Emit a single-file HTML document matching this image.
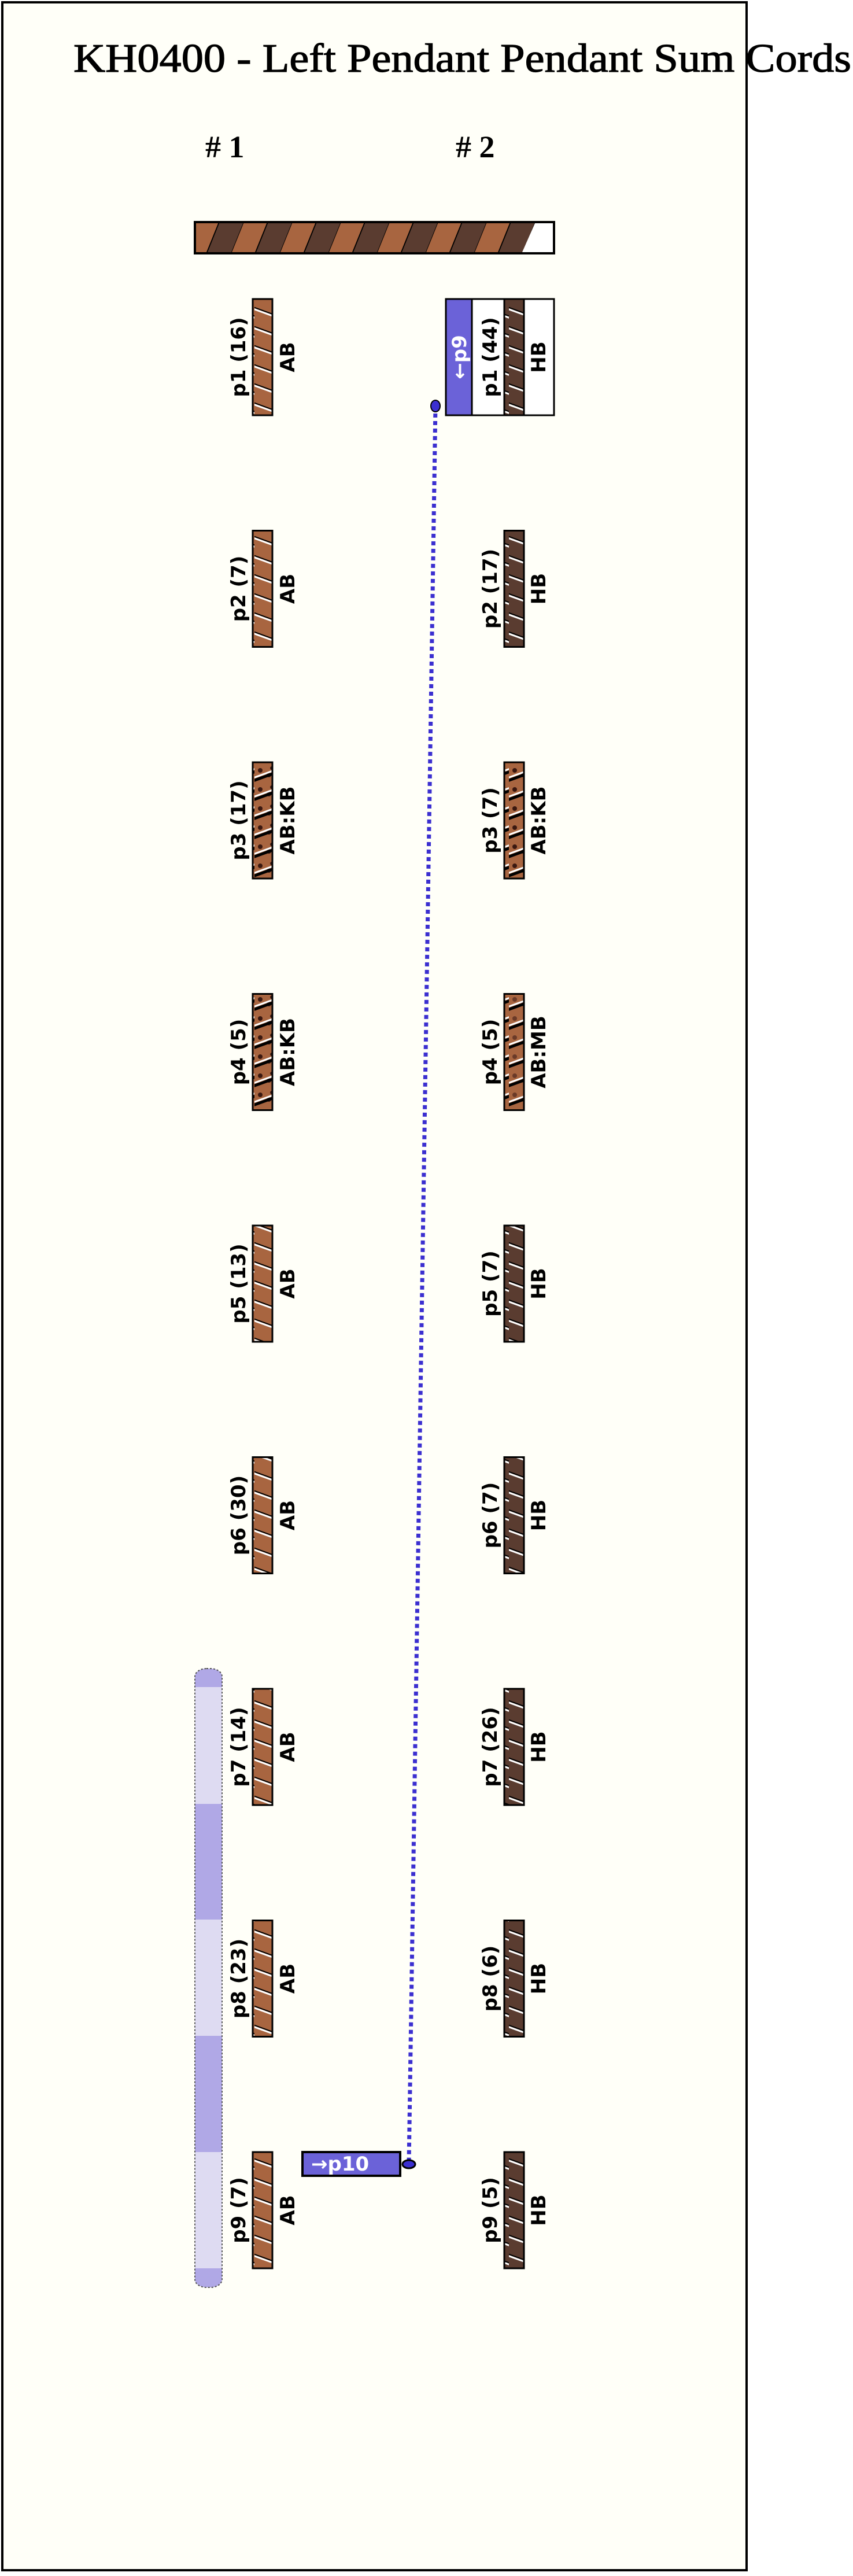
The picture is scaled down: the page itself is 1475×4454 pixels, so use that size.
<!DOCTYPE html>
<html><head><meta charset="utf-8"><style>
html,body{margin:0;padding:0;background:#fff;}
svg{display:block;}
.lbl{font-family:"DejaVu Sans","Liberation Sans",sans-serif;font-weight:bold;font-size:34px;fill:#000;}
</style></head><body>
<svg width="1475" height="4454" viewBox="0 0 1475 4454" xmlns="http://www.w3.org/2000/svg">
<defs>
<pattern id="ab" patternUnits="userSpaceOnUse" width="40" height="33">
<rect width="40" height="33" fill="#a86540"/>
<line x1="-2" y1="3" x2="42" y2="19" stroke="#000" stroke-width="2"/>
<line x1="-2" y1="6" x2="42" y2="22" stroke="#fff" stroke-width="3"/>
</pattern>
<pattern id="hb" patternUnits="userSpaceOnUse" width="40" height="33">
<rect width="40" height="33" fill="#5a3c30"/>
<line x1="-2" y1="3" x2="42" y2="19" stroke="#000" stroke-width="2"/>
<line x1="-2" y1="6" x2="42" y2="22" stroke="#fff" stroke-width="3"/>
</pattern>
<pattern id="kb" patternUnits="userSpaceOnUse" width="40" height="33">
<rect width="40" height="33" fill="#a86540"/>
<circle cx="10" cy="12" r="4" fill="#3a1810"/><circle cx="25" cy="20" r="4" fill="#3a1810"/><circle cx="30" cy="8" r="3" fill="#3a1810"/>
<line x1="-2" y1="30" x2="42" y2="14" stroke="#000" stroke-width="5"/>
<line x1="-2" y1="25" x2="42" y2="9" stroke="#fff" stroke-width="3"/>
</pattern>
<pattern id="mb" patternUnits="userSpaceOnUse" width="40" height="33">
<rect width="40" height="33" fill="#a86540"/>
<circle cx="10" cy="12" r="4" fill="#6a3a28"/><circle cx="25" cy="20" r="4" fill="#6a3a28"/><circle cx="30" cy="8" r="3" fill="#6a3a28"/>
<line x1="-2" y1="30" x2="42" y2="14" stroke="#000" stroke-width="5"/>
<line x1="-2" y1="25" x2="42" y2="9" stroke="#fff" stroke-width="3"/>
</pattern>
<pattern id="bar" patternUnits="userSpaceOnUse" width="84" height="60" patternTransform="translate(337,384) skewX(-22)">
<rect width="42" height="60" fill="#a86540"/>
<rect x="42" width="42" height="60" fill="#5a3c30"/>
<line x1="0" y1="0" x2="0" y2="60" stroke="#000" stroke-width="2"/>
<line x1="42" y1="0" x2="42" y2="60" stroke="#000" stroke-width="2"/>
</pattern>
<clipPath id="sideclip"><rect x="337" y="2885" width="47" height="1070" rx="20" ry="14"/></clipPath>
</defs>
<rect x="0" y="0" width="1475" height="4454" fill="#fff"/>
<rect x="4" y="4" width="1287" height="4440" fill="#fffff8" stroke="#000" stroke-width="4"/>
<text x="127" y="124" font-family="Liberation Serif, serif" font-size="70" stroke="#000" stroke-width="1.2" textLength="1345" lengthAdjust="spacingAndGlyphs">KH0400 - Left Pendant Pendant Sum Cords</text>
<text x="355" y="272" font-family="Liberation Serif, serif" font-size="54" font-weight="bold"># 1</text>
<text x="788" y="272" font-family="Liberation Serif, serif" font-size="54" font-weight="bold"># 2</text>

<rect x="337" y="384" width="621" height="54" fill="url(#bar)"/>
<polygon points="925,386 956,386 956,436 903,436" fill="#fff"/>
<rect x="337" y="384" width="621" height="54" fill="none" stroke="#000" stroke-width="4"/>

<g clip-path="url(#sideclip)">
<rect x="337" y="2885" width="47" height="1070" fill="#dedbf2"/>
<rect x="337" y="2885" width="47" height="32" fill="#b0a8e6"/>
<rect x="337" y="3119" width="47" height="200" fill="#b0a8e6"/>
<rect x="337" y="3520" width="47" height="201" fill="#b0a8e6"/>
<rect x="337" y="3922" width="47" height="33" fill="#b0a8e6"/>
</g>
<rect x="337" y="2885" width="47" height="1070" rx="20" ry="14" fill="none" stroke="#555" stroke-width="2" stroke-dasharray="3 3"/>

<rect x="771" y="517" width="187" height="201" fill="#fff" stroke="#000" stroke-width="3"/>
<rect x="771" y="517" width="45" height="201" fill="#6b62d8" stroke="#000" stroke-width="3"/>
<text transform="translate(806,617.5) rotate(-90)" text-anchor="middle" class="lbl" style="fill:#fff">←p9</text>

<line x1="753" y1="702" x2="707" y2="3742" stroke="#3b2fd0" stroke-width="7" stroke-dasharray="7 6"/>
<ellipse cx="753" cy="702" rx="8" ry="10" fill="#3b2fd0" stroke="#000" stroke-width="2"/>

<rect x="523" y="3721" width="169" height="41" fill="#6b62d8" stroke="#000" stroke-width="4"/>
<text x="538" y="3753" class="lbl" style="fill:#fff" font-size="32">→p10</text>
<ellipse cx="707" cy="3742" rx="11" ry="7" fill="#3b2fd0" stroke="#000" stroke-width="3"/>

<g id="cords"></g>
</svg>
<script>
(function(){
var ns="http://www.w3.org/2000/svg",g=document.getElementById("cords");
var c1=[["p1 (16)","AB","ab"],["p2 (7)","AB","ab"],["p3 (17)","AB:KB","kb"],["p4 (5)","AB:KB","kb"],["p5 (13)","AB","ab"],["p6 (30)","AB","ab"],["p7 (14)","AB","ab"],["p8 (23)","AB","ab"],["p9 (7)","AB","ab"]];
var c2=[["p1 (44)","HB","hb"],["p2 (17)","HB","hb"],["p3 (7)","AB:KB","kb"],["p4 (5)","AB:MB","mb"],["p5 (7)","HB","hb"],["p6 (7)","HB","hb"],["p7 (26)","HB","hb"],["p8 (6)","HB","hb"],["p9 (5)","HB","hb"]];
function add(x,y,d,lx,rx){
 var r=document.createElementNS(ns,"rect");
 r.setAttribute("x",x);r.setAttribute("y",y);r.setAttribute("width",34);r.setAttribute("height",201);
 r.setAttribute("fill","url(#"+d[2]+")");r.setAttribute("stroke","#000");r.setAttribute("stroke-width","3");g.appendChild(r);
 var cy=y+100.5;
 [[lx,d[0]],[rx,d[1]]].forEach(function(p){
  var t=document.createElementNS(ns,"text");
  t.setAttribute("class","lbl");t.setAttribute("text-anchor","middle");
  t.setAttribute("transform","translate("+(p[0]+12)+","+cy+") rotate(-90)");
  t.textContent=p[1];g.appendChild(t);
 });
}
for(var i=0;i<9;i++){
 var y=517+i*400.5;
 add(437,y,c1[i],412,497);
 add(872,y,c2[i],847,931);
}
})();
</script>
</body></html>
